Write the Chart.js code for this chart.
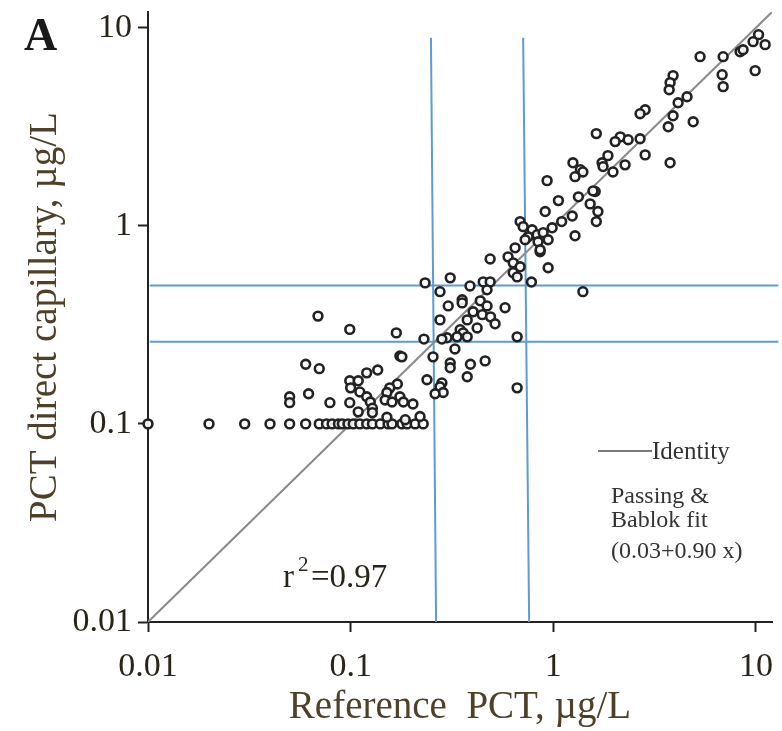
<!DOCTYPE html>
<html lang="en">
<head>
  <meta charset="UTF-8">
  <title>PCT direct capillary vs reference</title>
  <script src="https://cdn.jsdelivr.net/npm/chart.js"></script>
  <style>
    body { margin: 0; background: #fff; }
    .wrap { width: 782px; height: 731px; position: relative; }
  </style>
</head>
<body>
  <div class="wrap"><canvas id="pct"></canvas></div>

  <script>
    // reference PCT (x) and direct capillary PCT (y), µg/L
    const refPct = [
      0.01, 0.02, 0.03, 0.04, 0.05, 0.06, 0.07, 0.076, 0.081, 0.087, 0.091, 0.097,
      0.103, 0.111, 0.12, 0.128, 0.14, 0.153, 0.16, 0.179, 0.19, 0.208, 0.228,
      0.069, 0.06, 0.07, 0.099, 0.05, 0.05, 0.062, 0.12, 0.136, 0.099, 0.109, 0.10,
      0.111, 0.12, 0.125, 0.128, 0.128, 0.17, 0.156, 0.151, 0.175, 0.148, 0.16, 0.182,
      0.203, 0.079, 0.099, 0.109, 0.151, 0.186, 0.22, 0.175,
      0.168, 0.23, 0.179, 0.255, 0.238, 0.282, 0.276, 0.286, 0.261, 0.31, 0.31, 0.39,
      0.461, 0.376, 0.663, 0.327, 0.233, 0.31, 0.388, 0.451, 0.488, 0.78, 0.276, 0.355,
      0.355, 0.436, 0.471, 0.578, 0.303, 0.402, 0.446, 0.49, 0.516, 0.376, 0.276, 0.421,
      0.347, 0.359, 0.335, 0.376, 0.299, 0.282, 0.663,
      0.488, 0.598, 0.634, 0.686, 0.634, 0.663, 0.943, 0.861, 0.648, 0.471, 1.40, 0.686,
      0.71, 0.786, 0.832, 0.891, 0.943, 0.751, 0.726, 0.841, 0.861, 0.912, 1.10, 0.987,
      1.28, 0.932, 1.06, 1.33, 1.61, 1.52, 1.66, 1.63, 1.24, 1.25, 1.36, 1.28, 1.74,
      1.97, 2.26, 1.86, 2.84, 3.77, 1.40, 1.57, 1.76,
      10.3, 9.68, 11.1, 8.35, 8.64, 6.89, 5.3, 9.91, 6.81, 6.89, 3.9, 3.77, 3.73, 4.57,
      4.13, 2.84, 2.68, 3.9, 4.9, 3.69, 1.63, 2.14, 2.02, 2.34, 2.68
    ];
    const capPct = [
      0.1, 0.1, 0.1, 0.1, 0.1, 0.1, 0.1, 0.1, 0.1, 0.1, 0.1, 0.1,
      0.1, 0.1, 0.1, 0.1, 0.1, 0.1, 0.1, 0.1, 0.1, 0.1, 0.1,
      0.35, 0.2, 0.19, 0.30, 0.137, 0.128, 0.142, 0.181, 0.187, 0.165, 0.165, 0.152,
      0.145, 0.137, 0.129, 0.12, 0.114, 0.159, 0.152, 0.144, 0.137, 0.132, 0.129, 0.129,
      0.126, 0.128, 0.128, 0.115, 0.108, 0.105, 0.109, 0.22,
      0.288, 0.268, 0.218, 0.218, 0.167, 0.161, 0.154, 0.144, 0.142, 0.203, 0.192, 0.2,
      0.208, 0.173, 0.152, 0.239, 0.515, 0.546, 0.497, 0.521, 0.521, 0.52, 0.465, 0.423,
      0.408, 0.418, 0.394, 0.386, 0.394, 0.368, 0.356, 0.347, 0.32, 0.335, 0.335, 0.305,
      0.299, 0.288, 0.275, 0.275, 0.272, 0.268, 0.275,
      0.68, 0.697, 0.65, 0.621, 0.58, 0.552, 0.614, 0.74, 0.774, 0.475, 0.465, 1.05,
      0.99, 0.955, 0.902, 0.923, 0.85, 0.88, 0.85, 0.83, 0.757, 1.18, 1.05, 0.977,
      0.89, 1.69, 1.34, 1.40, 1.49, 1.29, 1.18, 1.05, 1.12, 2.08, 1.92, 1.77, 2.08,
      1.87, 2.03, 2.26, 2.28, 2.08, 1.87, 1.50, 1.99,
      9.22, 8.5, 8.21, 7.56, 7.74, 7.14, 7.14, 6.07, 5.79, 5.04, 5.73, 5.28, 4.86, 4.48,
      4.18, 3.85, 3.68, 3.59, 3.35, 3.16, 2.92, 2.81, 2.66, 2.72, 2.75
    ];

    const axisTicks = [0.01, 0.1, 1, 10];
    const identityEnds = [0.01, 12];
    // cut-off guide lines (µg/L)
    const refCutTop = [0.249, 0.71];
    const refCutBottom = [0.264, 0.76];
    const cutLineTop = 8.9;
    const capCuts = [0.5, 0.26];

    const serif = "'Liberation Serif', 'Times New Roman', serif";
    const inkDark = '#2a2418';
    const inkTitle = '#4e4029';
    const blue = '#5e9bd6';

    const points = refPct.map((x, i) => ({ x: x, y: capPct[i] }));

    const guideSets = [];
    refCutTop.forEach((x, i) => {
      guideSets.push({
        data: [{ x: x, y: cutLineTop }, { x: refCutBottom[i], y: 0.01 }],
        showLine: true, borderColor: blue, borderWidth: 2, pointRadius: 0, clip: false
      });
    });
    capCuts.forEach(y => {
      guideSets.push({
        data: [{ x: 0.0102, y: y }, { x: 12.9, y: y }],
        showLine: true, borderColor: blue, borderWidth: 2, pointRadius: 0, clip: false
      });
    });

    const textPlugin = {
      id: 'labels',
      afterDraw(chart) {
        const c = chart.ctx;
        c.save();
        c.fillStyle = '#1a1a1a';
        c.textBaseline = 'alphabetic';
        c.font = 'bold 46px ' + serif;
        c.fillText('A', 24, 50);

        // r^2
        c.fillStyle = inkDark;
        c.font = '33px ' + serif;
        c.fillText('r', 283, 587);
        c.font = '21px ' + serif;
        c.fillText('2', 298, 571);
        c.font = '33px ' + serif;
        c.fillText('=0.97', 311, 587);

        // legend
        c.strokeStyle = '#7a7a7a';
        c.lineWidth = 2;
        c.beginPath();
        c.moveTo(598, 451);
        c.lineTo(652, 451);
        c.stroke();
        c.fillStyle = '#333';
        c.font = '25px ' + serif;
        c.fillText('Identity', 652, 459);
        c.font = '24px ' + serif;
        c.fillText('Passing &', 611, 503);
        c.fillText('Bablok fit', 611, 527);
        c.fillText('(0.03+0.90 x)', 611, 558);
        c.restore();
      }
    };

    const logAxis = (title, fit, tickPad, titlePad) => ({
      type: 'logarithmic',
      min: 0.01,
      max: 12,
      afterBuildTicks: s => { s.ticks = axisTicks.map(v => ({ value: v })); },
      afterFit: fit,
      border: { display: true, color: '#222', width: 2 },
      grid: { drawOnChartArea: false, drawTicks: true, tickLength: 10, tickColor: '#222', tickWidth: 2 },
      ticks: {
        color: inkDark,
        font: { family: serif, size: 34 },
        padding: tickPad,
        maxRotation: 0,
        minRotation: 0,
        callback: v => String(v)
      },
      title: {
        display: true,
        text: title,
        color: inkTitle,
        font: { family: serif, size: 39 },
        padding: titlePad
      }
    });

    new Chart(document.getElementById('pct'), {
      type: 'scatter',
      data: {
        datasets: [
          {
            data: points,
            pointStyle: 'circle',
            pointRadius: 4.4,
            borderWidth: 2.6,
            borderColor: '#222',
            backgroundColor: 'rgba(255,255,255,0.9)',
            clip: false
          },
          {
            data: identityEnds.map(v => ({ x: v, y: v })),
            showLine: true,
            borderColor: '#8a8a8a',
            borderWidth: 2,
            pointRadius: 0
          },
          ...guideSets
        ]
      },
      options: {
        responsive: true,
        maintainAspectRatio: false,
        animation: false,
        layout: { autoPadding: false, padding: { top: 12, right: 10, left: 0, bottom: 0 } },
        plugins: { legend: { display: false }, tooltip: { enabled: false } },
        scales: {
          x: logAxis('Reference  PCT, µg/L', s => {
            s.height = 109; s.paddingLeft = 0; s.paddingRight = 0;
          }, 15, { top: 0, bottom: 0 }),
          y: logAxis('PCT direct capillary, µg/L', s => {
            s.width = 148; s.paddingTop = 0; s.paddingBottom = 0;
          }, 6, { top: 22, bottom: 0 })
        }
      },
      plugins: [textPlugin]
    });
  </script>
</body>
</html>
